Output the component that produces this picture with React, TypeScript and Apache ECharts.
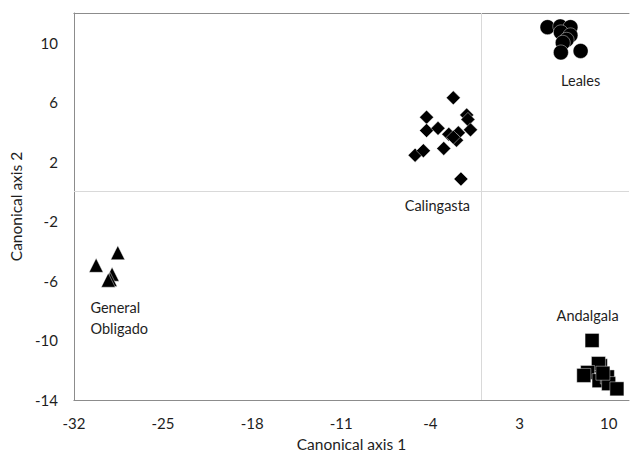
import React, { useEffect, useRef } from "react";
import * as echarts from "echarts";

const xTickInterval = 7;
const yTickInterval = 4;

const lealesPoints = [
  [5.2, 11.05], [6.2, 11.1], [7.0, 11.05], [6.25, 10.7], [7.0, 10.5],
  [6.7, 10.2], [6.4, 10.0], [6.25, 9.35], [7.8, 9.45],
];
const calingastaPoints = [
  [-2.2, 6.3], [-4.3, 5.0], [-1.15, 5.15], [-1.05, 4.85], [-4.3, 4.1],
  [-3.4, 4.25], [-2.55, 3.85], [-1.8, 3.95], [-0.85, 4.15], [-1.95, 3.45],
  [-2.2, 3.65], [-2.95, 2.9], [-5.2, 2.45], [-4.55, 2.75], [-1.6, 0.85],
];
const generalObligadoPoints = [
  [-28.55, -4.1], [-30.25, -4.95], [-29.0, -5.55], [-29.15, -5.9], [-29.3, -5.95],
];
const andalgalaPoints = [
  [8.7, -10.0], [9.35, -11.7], [9.2, -11.55], [8.35, -12.15], [8.05, -12.35],
  [9.25, -12.7], [9.9, -12.45], [10.0, -12.9], [10.65, -13.25], [9.55, -12.2],
];
const groupLabels = [
  { name: "Leales", x: 7.8, y: 7.45, align: "center" },
  { name: "Calingasta", x: -3.45, y: -0.95, align: "center" },
  { name: "General\nObligado", x: -30.7, y: -8.5, align: "left" },
  { name: "Andalgala", x: 8.35, y: -8.35, align: "center" },
];

const FONT = "Lato, 'Open Sans', sans-serif";
const TEXT = "#1e1e1e";
const FRAME = "#8c8c8c";

export default function App() {
  const ref = useRef<HTMLDivElement>(null);
  useEffect(() => {
    if (!ref.current) return;
    const chart = echarts.init(ref.current, undefined, { renderer: "svg" });
    const itemStyle = {
      color: "#000000",
      opacity: 1,
      borderColor: "rgba(255,255,255,0.7)",
      borderWidth: 0.6,
    };
    chart.setOption({
      animation: false,
      backgroundColor: "#ffffff",
      textStyle: { fontFamily: FONT },
      grid: { left: 70, top: 13, bottom: 54, right: 1 },
      xAxis: [
        {
          type: "value",
          min: -32,
          max: 11.6,
          interval: xTickInterval,
          name: "Canonical axis 1",
          nameLocation: "middle",
          nameGap: 36,
          nameTextStyle: { color: TEXT, fontSize: 15.5, fontFamily: FONT },
          axisLine: { show: true, onZero: false, lineStyle: { color: FRAME, width: 1 } },
          axisTick: { show: false },
          splitLine: { show: false },
          axisLabel: {
            color: TEXT,
            fontSize: 15,
            fontFamily: FONT,
            margin: 15,
            showMaxLabel: false,
          },
        },
        {
          type: "value",
          position: "top",
          min: -32,
          max: 11.6,
          axisLine: { show: true, onZero: false, lineStyle: { color: FRAME, width: 1 } },
          axisTick: { show: false },
          axisLabel: { show: false },
          splitLine: { show: false },
        },
      ],
      yAxis: {
        type: "value",
        min: -14,
        max: 12,
        interval: yTickInterval,
        name: "Canonical axis 2",
        nameLocation: "middle",
        nameGap: 41,
        nameRotate: 90,
        nameTextStyle: { color: TEXT, fontSize: 15.5, fontFamily: FONT },
        axisLine: { show: true, onZero: false, lineStyle: { color: FRAME, width: 1 } },
        axisTick: { show: false },
        splitLine: { show: false },
        axisLabel: {
          color: TEXT,
          fontSize: 15,
          fontFamily: FONT,
          margin: 16,
          showMaxLabel: false,
        },
      },
      series: [
        {
          name: "ref",
          type: "scatter",
          data: [],
          markLine: {
            silent: true,
            symbol: "none",
            label: { show: false },
            lineStyle: { color: "#d9d9d9", width: 1, type: "solid" },
            data: [{ xAxis: 0 }, { yAxis: 0 }],
          },
        },
        {
          name: "Leales",
          type: "scatter",
          symbol: "circle",
          symbolSize: 15,
          itemStyle,
          data: lealesPoints,
        },
        {
          name: "Calingasta",
          type: "scatter",
          symbol: "diamond",
          symbolSize: 14,
          itemStyle,
          data: calingastaPoints,
        },
        {
          name: "General Obligado",
          type: "scatter",
          symbol: "triangle",
          symbolSize: 14,
          itemStyle,
          data: generalObligadoPoints,
        },
        {
          name: "Andalgala",
          type: "scatter",
          symbol: "rect",
          symbolSize: 14,
          itemStyle,
          data: andalgalaPoints,
        },
        {
          name: "labels",
          type: "scatter",
          symbolSize: 0,
          silent: true,
          itemStyle: { opacity: 1, color: TEXT },
          data: groupLabels.map((g) => ({
            value: [g.x, g.y],
            name: g.name,
            label: {
              show: true,
              position: "inside",
              align: g.align,
              verticalAlign: "middle",
              formatter: g.name,
              color: TEXT,
              fontSize: 14.5,
              lineHeight: 21,
              fontFamily: FONT,
            },
          })),
        },
      ],
    });
    return () => chart.dispose();
  }, []);
  return (
    <div
      ref={ref}
      style={{ position: "fixed", left: 0, top: 0, width: 630, height: 457 }}
    />
  );
}
